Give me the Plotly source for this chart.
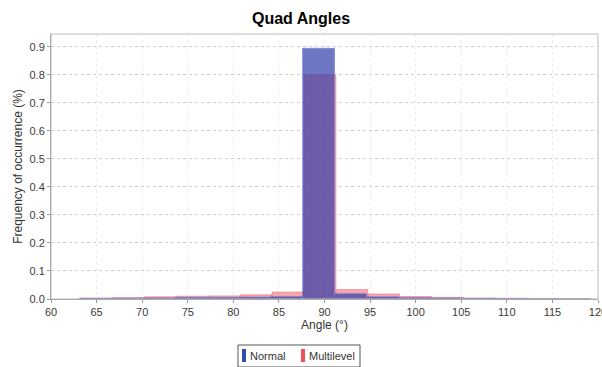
import plotly.graph_objects as go

# Bin centers (degrees) and relative frequencies
normal_centers = [64.85, 68.35, 71.85, 75.35, 78.85, 82.35, 85.85, 89.35, 92.85, 96.35, 99.85, 103.35, 106.85, 110.35, 113.85, 117.35]
normal_values = [0.002, 0.003, 0.004, 0.006, 0.006, 0.007, 0.009, 0.895, 0.019, 0.008, 0.005, 0.004, 0.002, 0.001, 0.0005, 0.0003]

multi_centers = [65.0, 68.5, 72.0, 75.5, 79.0, 82.5, 86.0, 89.5, 93.0, 96.5, 100.0, 103.5, 107.0, 110.5, 114.0, 117.5]
multi_values = [0.004, 0.005, 0.008, 0.010, 0.011, 0.015, 0.025, 0.800, 0.034, 0.018, 0.009, 0.006, 0.004, 0.003, 0.001, 0.0005]

series_names = ["Normal", "Multilevel"]
legend_colors = ["#2f4fb0", "#f0505a"]

bin_width = 3.5
x_ticks = list(range(60, 121, 5))
y_ticks = [i / 10 for i in range(10)]

W, H = 602, 367
L, R, T, B = 51, 4, 34, 68
pw, ph = W - L - R, H - T - B


def px2paper(px, py):
    return (px - L) / pw, (H - B - py) / ph


fig = go.Figure()
fig.add_trace(go.Bar(
    x=multi_centers, y=multi_values, width=bin_width, name=series_names[1],
    marker=dict(color="rgba(240,80,90,0.5)", line=dict(color="rgba(240,120,130,0.6)", width=1)),
    showlegend=False,
))
fig.add_trace(go.Bar(
    x=normal_centers, y=normal_values, width=bin_width, name=series_names[0],
    marker=dict(color="rgba(50,60,170,0.7)", line=dict(color="rgba(120,130,220,0.7)", width=1)),
    showlegend=False,
))

fig.update_layout(
    width=W, height=H,
    barmode="overlay",
    paper_bgcolor="white", plot_bgcolor="white",
    margin=dict(l=L, r=R, t=T, b=B, autoexpand=False),
    font=dict(family="Liberation Sans, Arial, sans-serif", size=11, color="#3a3a3a"),
    title=dict(text="<b>Quad Angles</b>", x=0.5, xanchor="center", y=0.95, yanchor="middle",
               font=dict(size=16, color="black")),
    showlegend=False,
    xaxis=dict(range=[60, 120], tickvals=x_ticks, ticktext=[str(v) for v in x_ticks],
               showgrid=True, gridcolor="#ececec", griddash="dot",
               showline=True, linecolor="#999",
               ticks="outside", ticklen=3, tickcolor="#999",
               ticklabeloverflow="allow",
               title=dict(text="Angle (°)", font=dict(size=12, color="#333"), standoff=2),
               zeroline=False, automargin=False),
    yaxis=dict(range=[0, 0.946], tickvals=y_ticks, ticktext=[f"{v:.1f}" for v in y_ticks],
               showgrid=True, gridcolor="#cfcfcf", griddash="dot",
               showline=True, linecolor="#999",
               ticks="outside", ticklen=3, tickcolor="#999",
               title=dict(text="Frequency of occurrence (%)", font=dict(size=12, color="#333"), standoff=4),
               zeroline=False, automargin=False),
)

# plot frame (top/right border)
fig.add_shape(type="rect", xref="paper", yref="paper", x0=0, y0=0, x1=1, y1=1,
              line=dict(color="#bbb", width=1), fillcolor="rgba(0,0,0,0)", layer="above")

# custom compact legend below the chart
x0, y0 = px2paper(238, 345)
x1, y1 = px2paper(360, 367)
fig.add_shape(type="rect", xref="paper", yref="paper", x0=x0, y0=y1, x1=x1, y1=y0,
              line=dict(color="#555", width=1), fillcolor="white")
item_px = [(242, 249), (301, 308)]
for (sx, tx), name, col in zip(item_px, series_names, legend_colors):
    a0, b0 = px2paper(sx, 349)
    a1, b1 = px2paper(sx + 4, 362)
    fig.add_shape(type="rect", xref="paper", yref="paper", x0=a0, y0=b1, x1=a1, y1=b0,
                  line=dict(width=0), fillcolor=col)
    ta, tb = px2paper(tx, 356)
    fig.add_annotation(xref="paper", yref="paper", x=ta, y=tb, text=name, showarrow=False,
                       xanchor="left", yanchor="middle", xshift=-1,
                       font=dict(size=11, color="#333"))

fig.write_html("out.html")
